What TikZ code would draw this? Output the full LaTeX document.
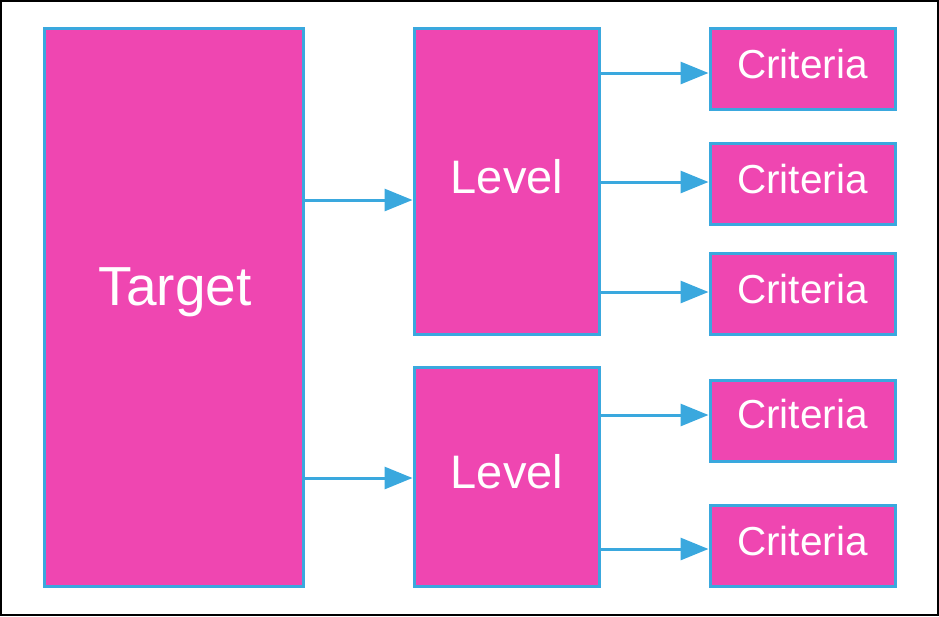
\documentclass[tikz,border=0pt]{standalone}
\usepackage{fontspec}
\setmainfont{Liberation Sans}
\usetikzlibrary{arrows.meta}
\definecolor{pinkfill}{RGB}{239,70,177}
\definecolor{blueline}{RGB}{58,168,222}
\begin{document}
\begin{tikzpicture}[x=1pt,y=-1pt,
  box/.style={draw=blueline,fill=pinkfill,line width=3pt,rectangle,inner sep=0pt},
  lbl/.style={text=white,anchor=base,inner sep=0pt},
  tlbl/.style={lbl,font=\fontsize{55}{55}\selectfont},
  llbl/.style={lbl,font=\fontsize{47}{47}\selectfont},
  clbl/.style={lbl,font=\fontsize{40.5}{40.5}\selectfont},
  arr/.style={draw=blueline,line width=3pt,-{Triangle[length=28pt,width=22pt]}}]
\useasboundingbox (0,0) rectangle (939,616);
\draw[line width=2pt,black] (1,1) rectangle (938,615);
% boxes
\node[box,minimum width=259pt,minimum height=558pt] (target) at (173.5,307.5) {};
\node[box,minimum width=185pt,minimum height=306pt] (lv1) at (506.5,181.5) {};
\node[box,minimum width=185pt,minimum height=219pt] (lv2) at (506.5,477) {};
\node[box,minimum width=185pt,minimum height=81pt] (c1) at (802.5,68.5) {};
\node[box,minimum width=185pt,minimum height=81pt] (c2) at (802.5,183.5) {};
\node[box,minimum width=185pt,minimum height=81pt] (c3) at (802.5,294) {};
\node[box,minimum width=185pt,minimum height=81pt] (c4) at (802.5,420.5) {};
\node[box,minimum width=185pt,minimum height=81pt] (c5) at (802.5,545.5) {};
% labels
\node[tlbl] (tt) at (175,305) {Target};
\node[llbl] (t1) at (507,193) {Level};
\node[llbl] (t2) at (507,488) {Level};
\node[clbl] (tc1) at (802.5,78) {Criteria};
\node[clbl] (tc2) at (802.5,193) {Criteria};
\node[clbl] (tc3) at (802.5,303) {Criteria};
\node[clbl] (tc4) at (802.5,428) {Criteria};
\node[clbl] (tc5) at (802.5,555) {Criteria};
% arrows
\draw[arr] (target.east |- 0,200) -- (lv1.west |- 0,200);
\draw[arr] (target.east |- 0,478) -- (lv2.west |- 0,478);
\draw[arr] (lv1.east |- 0,73) -- (c1.west |- 0,73);
\draw[arr] (lv1.east |- 0,182) -- (c2.west |- 0,182);
\draw[arr] (lv1.east |- 0,292) -- (c3.west |- 0,292);
\draw[arr] (lv2.east |- 0,415) -- (c4.west |- 0,415);
\draw[arr] (lv2.east |- 0,549) -- (c5.west |- 0,549);
\end{tikzpicture}
\end{document}
